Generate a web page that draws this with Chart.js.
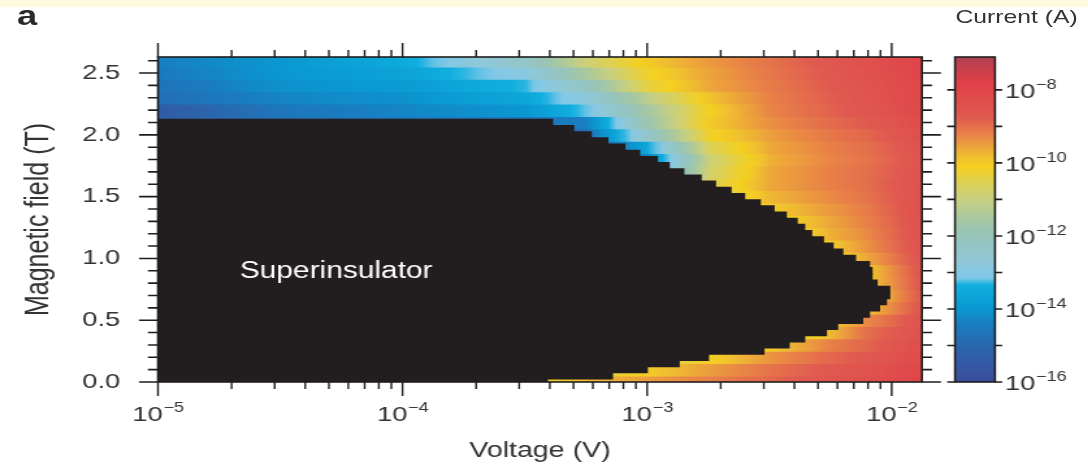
<!DOCTYPE html>
<html>
<head>
<meta charset="utf-8">
<script src="https://cdn.jsdelivr.net/npm/chart.js@4.4.1/dist/chart.umd.min.js"></script>
<style>
  html, body { margin: 0; padding: 0; background: #fff; overflow: hidden; }
  /* the original figure is stretched sideways, so the whole stage is too */
  #stage { position: absolute; left: 0; top: 0; width: 837px; height: 466px;
           transform: scaleX(1.3); transform-origin: 0 0;
           font-family: "Liberation Sans", Arial, sans-serif; color: #333; }
  #band { position: absolute; left: 0; top: 0; width: 837px; height: 7px; background: #fdfbdb; }
  #panel { position: absolute; left: 13px; top: 0px; font-weight: bold; font-size: 28px; color: #2a2a2a; }
  #unit { position: absolute; left: 735px; top: 6px; font-size: 19px; white-space: nowrap; }
  #main { position: absolute; left: 0; top: 0; }
  #bar { position: absolute; left: 723px; top: 0; }
</style>
</head>
<body>
<div id="stage">
  <div id="band"></div>
  <canvas id="main" width="727" height="466"></canvas>
  <canvas id="bar" width="114" height="466"></canvas>
  <div id="panel">a</div>
  <div id="unit">Current (A)</div>
</div>
<script>
// superinsulating region: field rows (T) and the voltage (V) where current sets in
const fieldRows = [0.00, 0.05, 0.10, 0.15, 0.20, 0.25, 0.30, 0.35, 0.40, 0.45,
  0.50, 0.55, 0.60, 0.65, 0.70, 0.75, 0.80, 0.85, 0.90, 0.95,
  1.00, 1.05, 1.10, 1.15, 1.20, 1.25, 1.30, 1.35, 1.40, 1.45,
  1.50, 1.55, 1.60, 1.65, 1.70, 1.75, 1.80, 1.85, 1.90, 1.95,
  2.00, 2.05, 2.10];
const thresholdVoltage = [3.9e-4, 7.2e-4, 1.0e-3, 1.35e-3, 1.78e-3, 3.0e-3, 3.8e-3, 4.4e-3, 5.4e-3, 6.0e-3,
  7.6e-3, 8.1e-3, 8.9e-3, 9.5e-3, 9.8e-3, 9.8e-3, 8.7e-3, 8.3e-3, 8.3e-3, 8.1e-3,
  7.1e-3, 6.3e-3, 5.75e-3, 5.25e-3, 4.7e-3, 4.4e-3, 4.1e-3, 3.7e-3, 3.3e-3, 2.9e-3,
  2.5e-3, 2.2e-3, 1.9e-3, 1.66e-3, 1.41e-3, 1.23e-3, 1.1e-3, 9.3e-4, 8.1e-4, 6.9e-4,
  5.9e-4, 5.0e-4, 4.1e-4];

// current map, log10(I / A): rows of field (T) x columns of voltage (V)
const currentFields = [0.0, 0.1, 0.2, 0.3, 0.4, 0.5, 0.6, 0.7, 0.8, 0.9, 1.0, 1.1, 1.2, 1.3,
  1.4, 1.5, 1.6, 1.7, 1.8, 1.9, 2.0, 2.1, 2.2, 2.3, 2.4, 2.5, 2.6];
const voltageCols = [1e-5, 3.2e-5, 1e-4, 3.2e-4, 5.6e-4, 1e-3, 1.8e-3, 3.2e-3, 5.6e-3, 7.9e-3, 1e-2, 1.33e-2];
const n = null;
const logCurrent = [
  [n, n, n, -10.2, -9.8, -9.5, -9.2, -8.9, -8.55, -8.35, -8.2, -7.9],
  [n, n, n, n, -10.6, -10.0, -9.5, -9.05, -8.7, -8.5, -8.3, -8.0],
  [n, n, n, n, n, -10.7, -10.1, -9.4, -8.9, -8.7, -8.5, -8.2],
  [n, n, n, n, n, n, -10.8, -10.0, -9.2, -8.9, -8.65, -8.3],
  [n, n, n, n, n, n, n, -11.0, -9.8, -9.0, -8.75, -8.4],
  [n, n, n, n, n, n, n, -10.6, -10.0, -9.3, -8.95, -8.5],
  [n, n, n, n, n, n, n, n, -10.3, -9.9, -9.3, -8.6],
  [n, n, n, n, n, n, n, n, -10.5, -10.1, -9.5, -8.7],
  [n, n, n, n, n, n, n, n, -10.4, -10.0, -9.4, -8.65],
  [n, n, n, n, n, n, n, n, -10.5, -10.0, -9.35, -8.6],
  [n, n, n, n, n, n, n, -11.0, -10.3, -9.6, -9.15, -8.55],
  [n, n, n, n, n, n, n, -10.8, -10.0, -9.4, -9.0, -8.5],
  [n, n, n, n, n, n, -11.5, -10.6, -9.7, -9.3, -8.95, -8.45],
  [n, n, n, n, n, n, -11.5, -10.3, -9.6, -9.2, -8.9, -8.45],
  [n, n, n, n, n, n, -11.0, -10.0, -9.45, -9.15, -8.85, -8.4],
  [n, n, n, n, n, n, -10.8, -9.75, -9.3, -9.05, -8.8, -8.4],
  [n, n, n, n, n, -13.5, -10.6, -9.6, -9.2, -9.0, -8.75, -8.4],
  [n, n, n, n, n, -14.0, -10.8, -9.6, -9.2, -9.0, -8.8, -8.45],
  [n, n, n, n, -16.0, -14.3, -10.9, -9.7, -9.25, -9.05, -8.85, -8.5],
  [n, n, n, n, -15.5, -13.6, -10.6, -9.6, -9.2, -9.0, -8.8, -8.45],
  [n, n, n, -16.0, -14.8, -12.4, -10.2, -9.5, -9.1, -8.9, -8.7, -8.35],
  [-15.3, -14.8, -14.5, -14.6, -14.4, -11.8, -10.0, -9.35, -8.95, -8.75, -8.55, -8.2],
  [-15.4, -14.6, -14.3, -14.0, -13.2, -11.6, -10.1, -9.25, -8.85, -8.6, -8.4, -8.1],
  [-14.8, -14.3, -14.1, -13.6, -12.8, -11.2, -9.9, -9.2, -8.8, -8.55, -8.35, -8.05],
  [-14.7, -14.1, -13.9, -13.3, -12.2, -10.4, -9.6, -9.15, -8.75, -8.5, -8.3, -8.0],
  [-14.5, -14.0, -13.7, -12.9, -11.5, -10.2, -9.55, -9.1, -8.7, -8.45, -8.25, -7.95],
  [-14.4, -14.0, -13.5, -12.3, -10.9, -10.0, -9.45, -9.05, -8.65, -8.4, -8.2, -7.9]
];

// colour bar, log10(I / A) -> colour
const cmapLevels = [-16, -15.1, -14.45, -14.0, -13.35, -13.15, -12.7, -11.95, -11.5, -11.0, -10.65, -10.1, -9.85, -9.2, -8.75, -7.8, -7.1];
const cmapColors = ['#3c4c9c', '#2c64ac', '#1a7cc0', '#0a98d0', '#10b0e0', '#80c8e8', '#90c8d8', '#98c4b8', '#a8c8a0',
  '#c8d080', '#d8d060', '#f5d020', '#f0c030', '#e88048', '#e05a50', '#e04048', '#b04050'];

// tick labels (powers of ten are written as 10 with a raised exponent)
const fieldTicks = [0, 0.5, 1.0, 1.5, 2.0, 2.5];
const voltageDecades = [1e-5, 1e-4, 1e-3, 1e-2];
const voltageExponents = ['\u22125', '\u22124', '\u22123', '\u22122'];
const currentDecades = [-16, -14, -12, -10, -8];
const currentExponents = ['\u221216', '\u221214', '\u221212', '\u221210', '\u22128'];

const FONT = '"Liberation Sans", Arial, sans-serif';
const TEXT = '#333';
const INK = '#1e1e1e';

function hexRgb(h) {
  return [1, 3, 5].map(i => parseInt(h.slice(i, i + 2), 16));
}
const cmapRgb = cmapColors.map(hexRgb);

function colorFor(v) {
  const lv = cmapLevels;
  if (v <= lv[0]) return cmapColors[0];
  if (v >= lv[lv.length - 1]) return cmapColors[lv.length - 1];
  let i = 0;
  while (v > lv[i + 1]) i++;
  const t = (v - lv[i]) / (lv[i + 1] - lv[i]);
  const a = cmapRgb[i], b = cmapRgb[i + 1];
  const c = a.map((x, k) => Math.round(x + t * (b[k] - x)));
  return `rgb(${c[0]},${c[1]},${c[2]})`;
}

// horizontal shading of one row of the current map
function rowGradient(ctx) {
  const chart = ctx.chart;
  if (!chart.chartArea || ctx.type !== 'data') return '#e05050';
  const xs = chart.scales.x;
  const row = logCurrent[ctx.dataIndex];
  const px = voltageCols.map(v => xs.getPixelForValue(v));
  const x0 = px[0], x1 = px[px.length - 1];
  const g = chart.ctx.createLinearGradient(x0, 0, x1, 0);
  for (let c = 0; c < row.length - 1; c++) {
    if (row[c] == null || row[c + 1] == null) continue;
    for (let k = 0; k <= 8; k++) {
      const t = k / 8;
      const p = px[c] + t * (px[c + 1] - px[c]);
      g.addColorStop(Math.min(1, Math.max(0, (p - x0) / (x1 - x0))), colorFor(row[c] + t * (row[c + 1] - row[c])));
    }
  }
  return g;
}

// "10" with a raised exponent, centred on x (align 'center') or starting at x
function drawPower(ctx, exp, x, baseY, align) {
  ctx.font = `21px ${FONT}`;
  const wb = ctx.measureText('10').width;
  ctx.font = `14px ${FONT}`;
  const we = ctx.measureText(exp).width;
  const x0 = align === 'center' ? x - (wb + we) / 2 : x;
  ctx.textAlign = 'left';
  ctx.textBaseline = 'alphabetic';
  ctx.font = `21px ${FONT}`;
  ctx.fillText('10', x0, baseY);
  ctx.font = `14px ${FONT}`;
  ctx.fillText(exp, x0 + wb + 0.5, baseY - 9);
}

const frameTicks = {
  id: 'frameTicks',
  afterDraw(chart) {
    const { ctx, chartArea: a } = chart;
    const xs = chart.scales.x, ys = chart.scales.y;
    ctx.save();
    ctx.strokeStyle = INK;
    ctx.lineWidth = 1.6;
    ctx.strokeRect(a.left, a.top, a.right - a.left, a.bottom - a.top);
    ctx.beginPath();
    for (let k = 0; k <= 26; k++) {
      const py = ys.getPixelForValue(k / 10);
      const len = k % 5 === 0 ? 14.6 : 7.7;
      ctx.moveTo(a.left - len, py); ctx.lineTo(a.left, py);
      ctx.moveTo(a.right, py); ctx.lineTo(a.right + len, py);
    }
    ctx.stroke();
    ctx.lineWidth = 1.4;
    ctx.beginPath();
    for (let e = -5; e <= -2; e++) {
      for (let m = 1; m <= 9; m++) {
        const v = m * Math.pow(10, e);
        if (v > xs.max) break;
        const px = xs.getPixelForValue(v);
        const len = m === 1 ? 14 : 7;
        ctx.moveTo(px, a.bottom); ctx.lineTo(px, a.bottom + len);
        ctx.moveTo(px, a.top); ctx.lineTo(px, a.top - len);
      }
    }
    ctx.stroke();
    // voltage tick labels
    ctx.fillStyle = TEXT;
    voltageDecades.forEach((v, i) => drawPower(ctx, voltageExponents[i], xs.getPixelForValue(v), a.bottom + 39, 'center'));
    // region label
    ctx.fillStyle = '#ffffff';
    ctx.font = `23px ${FONT}`;
    ctx.textAlign = 'left';
    ctx.textBaseline = 'middle';
    ctx.fillText('Superinsulator', xs.getPixelForValue(2.16e-5), ys.getPixelForValue(0.89));
    ctx.restore();
  }
};

new Chart(document.getElementById('main'), {
  type: 'bar',
  data: {
    datasets: [
      {
        label: 'Superinsulator',
        data: fieldRows.map((b, i) => ({ y: b, x: [voltageCols[0], thresholdVoltage[i]] })),
        backgroundColor: '#221e1f',
        yAxisID: 'y',
        order: 0,
        clip: 0,
        grouped: false,
        borderWidth: 0,
        inflateAmount: 0.6,
        barPercentage: 1,
        categoryPercentage: 1
      },
      {
        label: 'Current',
        data: currentFields.map(b => ({ y: b, x: [voltageCols[0], voltageCols[voltageCols.length - 1]] })),
        backgroundColor: rowGradient,
        yAxisID: 'yc',
        order: 1,
        clip: 0,
        grouped: false,
        borderWidth: 0,
        inflateAmount: 0.6,
        barPercentage: 1,
        categoryPercentage: 1
      }
    ]
  },
  options: {
    indexAxis: 'y',
    responsive: false,
    animation: false,
    layout: { padding: { top: 57, right: 17.8, left: 0, bottom: 0 } },
    plugins: { legend: { display: false }, tooltip: { enabled: false } },
    scales: {
      x: {
        type: 'logarithmic',
        min: voltageCols[0],
        max: voltageCols[voltageCols.length - 1],
        grid: { display: false, drawTicks: false },
        border: { display: false },
        afterBuildTicks: s => { s.ticks = voltageDecades.map(v => ({ value: v })); },
        afterFit: s => { s.height = 84; },
        ticks: { display: false },
        title: { display: true, text: 'Voltage (V)', color: TEXT, font: { size: 22, family: FONT }, padding: { top: 0, bottom: 2 } }
      },
      y: {
        type: 'linear',
        min: 0,
        max: 2.63,
        offset: false,
        position: 'left',
        grid: { display: false, drawTicks: false },
        border: { display: false },
        afterBuildTicks: s => { s.ticks = fieldTicks.map(v => ({ value: v })); },
        afterFit: s => { s.width = 121.5; },
        ticks: { padding: 29, color: TEXT, font: { size: 21, family: FONT }, callback: v => Number(v).toFixed(1) },
        title: { display: true, text: 'Magnetic field (T)', color: TEXT, font: { size: 25, family: FONT }, padding: { top: 15 } }
      },
      yc: {
        type: 'linear',
        min: 0,
        max: 2.63,
        offset: false,
        display: false,
        ticks: { stepSize: 1 }
      }
    }
  },
  plugins: [frameTicks]
});

// colour bar
function barGradient(ctx) {
  const chart = ctx.chart;
  if (!chart.chartArea) return '#e05050';
  const ys = chart.scales.y;
  const lo = cmapLevels[0], hi = cmapLevels[cmapLevels.length - 1];
  const g = chart.ctx.createLinearGradient(0, ys.getPixelForValue(lo), 0, ys.getPixelForValue(hi));
  cmapLevels.forEach((l, i) => g.addColorStop((l - lo) / (hi - lo), cmapColors[i]));
  return g;
}

const barFrame = {
  id: 'barFrame',
  afterDraw(chart) {
    const { ctx, chartArea: a } = chart;
    const ys = chart.scales.y;
    ctx.save();
    ctx.strokeStyle = INK;
    ctx.lineWidth = 1.6;
    ctx.strokeRect(a.left, a.top, a.right - a.left, a.bottom - a.top);
    ctx.beginPath();
    for (let e = -16; e <= -8; e++) {
      const py = ys.getPixelForValue(e);
      ctx.moveTo(a.left - 6, py); ctx.lineTo(a.left, py);
      ctx.moveTo(a.right, py); ctx.lineTo(a.right + 5.5, py);
    }
    ctx.stroke();
    ctx.fillStyle = TEXT;
    currentDecades.forEach((v, i) => drawPower(ctx, currentExponents[i], a.right + 7.6, ys.getPixelForValue(v) + 8, 'left'));
    ctx.restore();
  }
};

new Chart(document.getElementById('bar'), {
  type: 'bar',
  data: {
    labels: ['Current (A)'],
    datasets: [{
      data: [[cmapLevels[0], cmapLevels[cmapLevels.length - 1]]],
      backgroundColor: barGradient,
      borderWidth: 0,
      barPercentage: 1,
      categoryPercentage: 1
    }]
  },
  options: {
    responsive: false,
    animation: false,
    layout: { padding: { top: 57, bottom: 84, left: 11.6, right: 0 } },
    plugins: { legend: { display: false }, tooltip: { enabled: false } },
    scales: {
      x: { display: false },
      y: {
        min: cmapLevels[0],
        max: cmapLevels[cmapLevels.length - 1],
        position: 'right',
        grid: { display: false, drawTicks: false },
        border: { display: false },
        afterBuildTicks: s => { s.ticks = currentDecades.map(v => ({ value: v })); },
        afterFit: s => { s.width = 71.6; },
        ticks: { display: false }
      }
    }
  },
  plugins: [barFrame]
});
</script>
</body>
</html>
